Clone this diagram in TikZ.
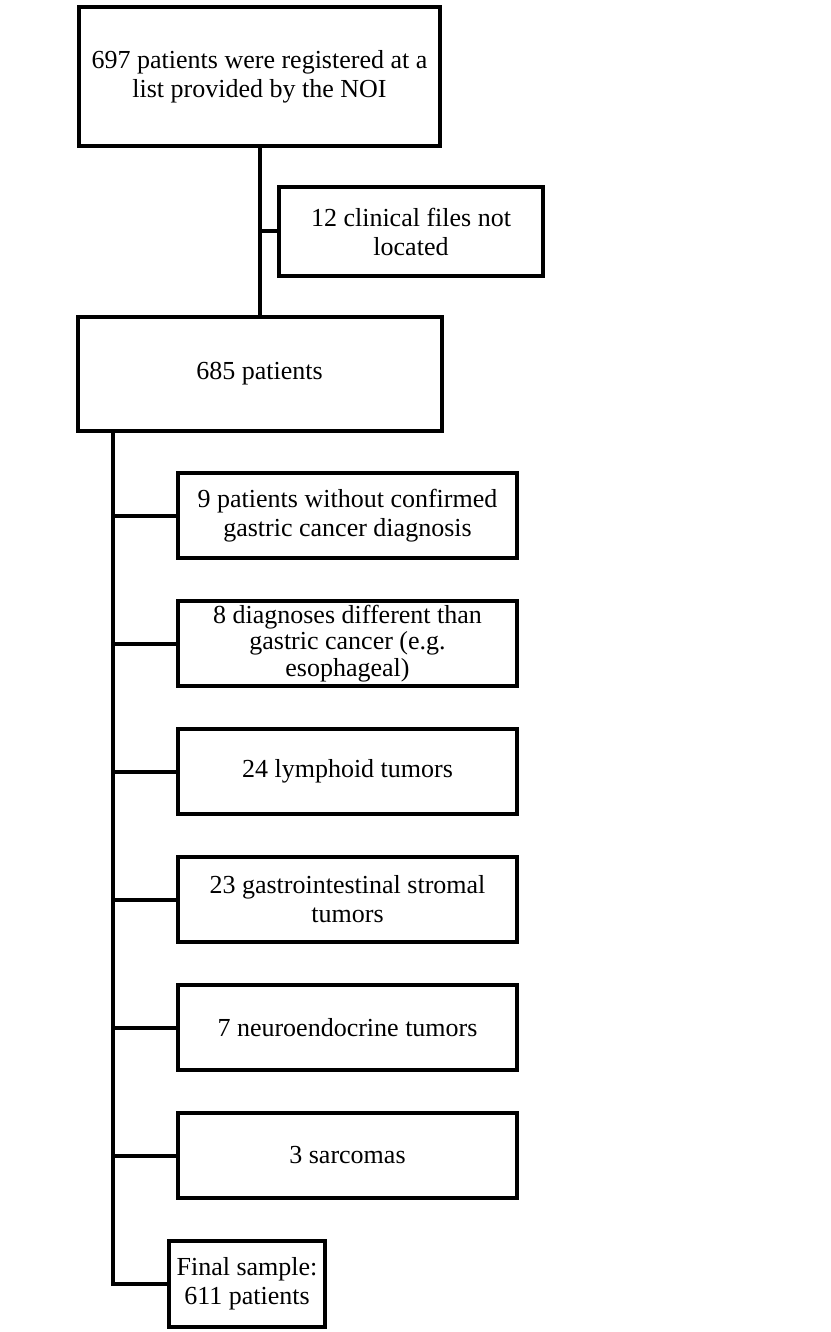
\documentclass[tikz,border=0pt]{standalone}
\usepackage{fontspec}
\setmainfont{Liberation Serif}
\usetikzlibrary{positioning}

\begin{document}
\begin{tikzpicture}[x=1pt, y=-1pt, node distance=39pt,
  every node/.style={font=\rmfamily\fontsize{26}{29}\selectfont},
  box/.style={draw, line width=4pt, align=center, inner sep=1pt},
  side/.style={box, minimum width=339pt, minimum height=85pt},
  link/.style={line width=4pt}]
  \useasboundingbox (0,0) rectangle (830,1332);
  \node[box, minimum width=361pt, minimum height=139pt] (reg) at (259.5,76.5) {697 patients were registered at a\\list provided by the NOI};
  \node[box, minimum width=264pt, minimum height=89pt] (nofile) at (411,231.5) {12 clinical files not\\located};
  \node[box, minimum width=364pt, minimum height=114pt] (pts) at (259.5,374) {685 patients};
  \node[side] (nodx) at (347.5,515.5) {9 patients without confirmed\\gastric cancer diagnosis};
  \node[side, below=of nodx, font=\rmfamily\fontsize{26}{26.5}\selectfont, inner ysep=0pt] (other) {8 diagnoses different than\\gastric cancer (e.g.\\esophageal)};
  \node[side, below=of other] (lymph) {24 lymphoid tumors};
  \node[side, below=of lymph] (gist) {23 gastrointestinal stromal\\tumors};
  \node[side, below=of gist] (net) {7 neuroendocrine tumors};
  \node[side, below=of net] (sarc) {3 sarcomas};
  \node[box, minimum width=156pt, minimum height=86pt] (final) at (247,1284) {Final sample:\\611 patients};

  \draw[link] (reg) -- (pts);
  \draw[link] (reg |- nofile.west) -- (nofile.west);
  \coordinate (trunk) at ([xshift=37.5pt]pts.south west);
  \draw[link] (trunk) |- (final.west);
  \foreach \b in {nodx,other,lymph,gist,net,sarc}
    \draw[link] (trunk |- \b.west) -- (\b.west);
\end{tikzpicture}
\end{document}
